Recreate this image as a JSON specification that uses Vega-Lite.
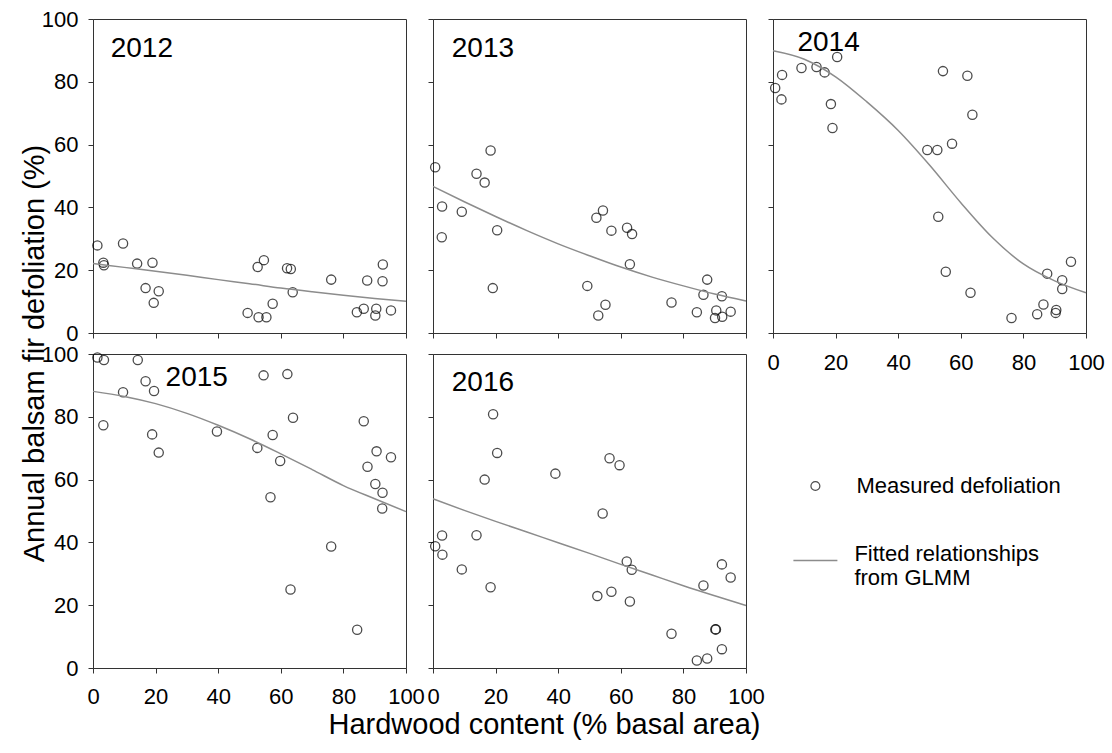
{
  "$schema": "https://vega.github.io/schema/vega-lite/v6.json",
  "padding": {"left": 20, "top": 7, "right": 5, "bottom": 5},
  "background": "white",
  "bounds": "flush",
  "columns": 3,
  "spacing": {"row": 21, "column": 27},
  "resolve": {"scale": {"color": "shared", "shape": "shared"}, "legend": {"color": "shared", "shape": "shared"}},
  "config": {
    "font": "Liberation Sans",
    "view": {"stroke": "#333", "strokeWidth": 1},
    "axis": {"grid": false, "domainColor": "#333", "tickColor": "#333", "tickSize": 5, "labelFontSize": 22, "labelColor": "black", "labelFont": "Liberation Sans", "titleFont": "Liberation Sans", "titleFontSize": 29, "titleFontWeight": "normal", "titleColor": "black", "labelFlush": false, "labelOverlap": false},
    "axisY": {"labelPadding": 10},
    "axisX": {"labelPadding": 13},
    "text": {"font": "Liberation Sans", "fontSize": 28, "color": "black", "align": "left", "baseline": "middle"}
  },
  "datasets": {
    "points": [
      {"year": 2012, "hardwood": 1.4, "defoliation": 27.9}, {"year": 2012, "hardwood": 9.6, "defoliation": 28.5}, {"year": 2012, "hardwood": 3.3, "defoliation": 22.4}, {"year": 2012, "hardwood": 3.5, "defoliation": 21.6}, {"year": 2012, "hardwood": 14.1, "defoliation": 22.1}, {"year": 2012, "hardwood": 19.0, "defoliation": 22.4}, {"year": 2012, "hardwood": 16.8, "defoliation": 14.3}, {"year": 2012, "hardwood": 21.0, "defoliation": 13.3}, {"year": 2012, "hardwood": 19.4, "defoliation": 9.6}, {"year": 2012, "hardwood": 49.4, "defoliation": 6.4}, {"year": 2012, "hardwood": 52.6, "defoliation": 21.0}, {"year": 2012, "hardwood": 52.9, "defoliation": 5.0}, {"year": 2012, "hardwood": 54.6, "defoliation": 23.2}, {"year": 2012, "hardwood": 55.4, "defoliation": 5.0}, {"year": 2012, "hardwood": 57.4, "defoliation": 9.3}, {"year": 2012, "hardwood": 62.0, "defoliation": 20.6}, {"year": 2012, "hardwood": 63.2, "defoliation": 20.4}, {"year": 2012, "hardwood": 63.8, "defoliation": 13.0}, {"year": 2012, "hardwood": 76.1, "defoliation": 17.0}, {"year": 2012, "hardwood": 84.3, "defoliation": 6.6}, {"year": 2012, "hardwood": 86.5, "defoliation": 7.7}, {"year": 2012, "hardwood": 87.6, "defoliation": 16.7}, {"year": 2012, "hardwood": 90.5, "defoliation": 7.7}, {"year": 2012, "hardwood": 90.2, "defoliation": 5.6}, {"year": 2012, "hardwood": 92.6, "defoliation": 21.8}, {"year": 2012, "hardwood": 92.5, "defoliation": 16.5}, {"year": 2012, "hardwood": 95.2, "defoliation": 7.2},
      {"year": 2013, "hardwood": 0.7, "defoliation": 52.8}, {"year": 2013, "hardwood": 2.9, "defoliation": 40.3}, {"year": 2013, "hardwood": 2.8, "defoliation": 30.5}, {"year": 2013, "hardwood": 9.2, "defoliation": 38.6}, {"year": 2013, "hardwood": 13.9, "defoliation": 50.7}, {"year": 2013, "hardwood": 16.5, "defoliation": 47.9}, {"year": 2013, "hardwood": 18.4, "defoliation": 58.1}, {"year": 2013, "hardwood": 19.1, "defoliation": 14.3}, {"year": 2013, "hardwood": 20.5, "defoliation": 32.7}, {"year": 2013, "hardwood": 49.3, "defoliation": 15.0}, {"year": 2013, "hardwood": 52.2, "defoliation": 36.7}, {"year": 2013, "hardwood": 52.8, "defoliation": 5.6}, {"year": 2013, "hardwood": 54.3, "defoliation": 39.0}, {"year": 2013, "hardwood": 55.1, "defoliation": 9.0}, {"year": 2013, "hardwood": 57.0, "defoliation": 32.6}, {"year": 2013, "hardwood": 62.0, "defoliation": 33.5}, {"year": 2013, "hardwood": 63.6, "defoliation": 31.5}, {"year": 2013, "hardwood": 62.9, "defoliation": 21.9}, {"year": 2013, "hardwood": 76.2, "defoliation": 9.7}, {"year": 2013, "hardwood": 84.3, "defoliation": 6.6}, {"year": 2013, "hardwood": 86.4, "defoliation": 12.2}, {"year": 2013, "hardwood": 87.6, "defoliation": 17.0}, {"year": 2013, "hardwood": 90.5, "defoliation": 7.2}, {"year": 2013, "hardwood": 90.1, "defoliation": 4.8}, {"year": 2013, "hardwood": 92.3, "defoliation": 11.7}, {"year": 2013, "hardwood": 92.4, "defoliation": 5.2}, {"year": 2013, "hardwood": 95.1, "defoliation": 6.8},
      {"year": 2014, "hardwood": 0.7, "defoliation": 78.0}, {"year": 2014, "hardwood": 2.9, "defoliation": 82.2}, {"year": 2014, "hardwood": 2.7, "defoliation": 74.4}, {"year": 2014, "hardwood": 9.1, "defoliation": 84.4}, {"year": 2014, "hardwood": 13.9, "defoliation": 84.7}, {"year": 2014, "hardwood": 16.5, "defoliation": 83.0}, {"year": 2014, "hardwood": 20.5, "defoliation": 87.9}, {"year": 2014, "hardwood": 18.5, "defoliation": 72.9}, {"year": 2014, "hardwood": 19.0, "defoliation": 65.3}, {"year": 2014, "hardwood": 49.3, "defoliation": 58.3}, {"year": 2014, "hardwood": 52.5, "defoliation": 58.3}, {"year": 2014, "hardwood": 57.2, "defoliation": 60.3}, {"year": 2014, "hardwood": 54.3, "defoliation": 83.4}, {"year": 2014, "hardwood": 62.1, "defoliation": 81.9}, {"year": 2014, "hardwood": 63.7, "defoliation": 69.5}, {"year": 2014, "hardwood": 52.8, "defoliation": 37.0}, {"year": 2014, "hardwood": 55.2, "defoliation": 19.5}, {"year": 2014, "hardwood": 63.1, "defoliation": 12.8}, {"year": 2014, "hardwood": 76.2, "defoliation": 4.8}, {"year": 2014, "hardwood": 84.4, "defoliation": 6.0}, {"year": 2014, "hardwood": 86.4, "defoliation": 9.1}, {"year": 2014, "hardwood": 87.6, "defoliation": 18.9}, {"year": 2014, "hardwood": 90.5, "defoliation": 7.3}, {"year": 2014, "hardwood": 90.3, "defoliation": 6.4}, {"year": 2014, "hardwood": 92.4, "defoliation": 16.8}, {"year": 2014, "hardwood": 92.4, "defoliation": 14.0}, {"year": 2014, "hardwood": 95.2, "defoliation": 22.7},
      {"year": 2015, "hardwood": 1.4, "defoliation": 98.9}, {"year": 2015, "hardwood": 3.5, "defoliation": 98.1}, {"year": 2015, "hardwood": 14.3, "defoliation": 98.1}, {"year": 2015, "hardwood": 16.8, "defoliation": 91.3}, {"year": 2015, "hardwood": 19.5, "defoliation": 88.2}, {"year": 2015, "hardwood": 9.6, "defoliation": 87.8}, {"year": 2015, "hardwood": 3.3, "defoliation": 77.3}, {"year": 2015, "hardwood": 18.9, "defoliation": 74.4}, {"year": 2015, "hardwood": 21.0, "defoliation": 68.6}, {"year": 2015, "hardwood": 39.6, "defoliation": 75.3}, {"year": 2015, "hardwood": 52.5, "defoliation": 70.1}, {"year": 2015, "hardwood": 54.5, "defoliation": 93.2}, {"year": 2015, "hardwood": 57.4, "defoliation": 74.2}, {"year": 2015, "hardwood": 56.7, "defoliation": 54.4}, {"year": 2015, "hardwood": 59.8, "defoliation": 65.9}, {"year": 2015, "hardwood": 62.1, "defoliation": 93.6}, {"year": 2015, "hardwood": 63.9, "defoliation": 79.7}, {"year": 2015, "hardwood": 63.1, "defoliation": 25.0}, {"year": 2015, "hardwood": 76.1, "defoliation": 38.7}, {"year": 2015, "hardwood": 84.4, "defoliation": 12.2}, {"year": 2015, "hardwood": 86.5, "defoliation": 78.6}, {"year": 2015, "hardwood": 87.7, "defoliation": 64.1}, {"year": 2015, "hardwood": 90.6, "defoliation": 69.0}, {"year": 2015, "hardwood": 90.2, "defoliation": 58.6}, {"year": 2015, "hardwood": 92.5, "defoliation": 55.8}, {"year": 2015, "hardwood": 92.4, "defoliation": 50.8}, {"year": 2015, "hardwood": 95.2, "defoliation": 67.1},
      {"year": 2016, "hardwood": 0.7, "defoliation": 38.8}, {"year": 2016, "hardwood": 2.9, "defoliation": 42.2}, {"year": 2016, "hardwood": 3.0, "defoliation": 36.1}, {"year": 2016, "hardwood": 9.2, "defoliation": 31.4}, {"year": 2016, "hardwood": 13.9, "defoliation": 42.3}, {"year": 2016, "hardwood": 16.5, "defoliation": 60.0}, {"year": 2016, "hardwood": 19.2, "defoliation": 80.8}, {"year": 2016, "hardwood": 18.4, "defoliation": 25.7}, {"year": 2016, "hardwood": 20.5, "defoliation": 68.5}, {"year": 2016, "hardwood": 39.1, "defoliation": 61.9}, {"year": 2016, "hardwood": 54.2, "defoliation": 49.2}, {"year": 2016, "hardwood": 52.5, "defoliation": 22.9}, {"year": 2016, "hardwood": 56.4, "defoliation": 66.8}, {"year": 2016, "hardwood": 59.6, "defoliation": 64.6}, {"year": 2016, "hardwood": 57.0, "defoliation": 24.3}, {"year": 2016, "hardwood": 61.9, "defoliation": 33.9}, {"year": 2016, "hardwood": 63.5, "defoliation": 31.3}, {"year": 2016, "hardwood": 62.9, "defoliation": 21.2}, {"year": 2016, "hardwood": 76.2, "defoliation": 10.9}, {"year": 2016, "hardwood": 84.3, "defoliation": 2.4}, {"year": 2016, "hardwood": 87.6, "defoliation": 3.0}, {"year": 2016, "hardwood": 86.4, "defoliation": 26.3}, {"year": 2016, "hardwood": 90.2, "defoliation": 12.3}, {"year": 2016, "hardwood": 90.4, "defoliation": 12.3}, {"year": 2016, "hardwood": 92.3, "defoliation": 6.0}, {"year": 2016, "hardwood": 92.3, "defoliation": 33.0}, {"year": 2016, "hardwood": 95.1, "defoliation": 28.8}
    ],
    "fits": [
      {"year": 2012, "hardwood": 0, "defoliation": 22.1}, {"year": 2012, "hardwood": 10, "defoliation": 20.9}, {"year": 2012, "hardwood": 20, "defoliation": 19.7}, {"year": 2012, "hardwood": 30, "defoliation": 18.4}, {"year": 2012, "hardwood": 40, "defoliation": 17.0}, {"year": 2012, "hardwood": 50, "defoliation": 15.7}, {"year": 2012, "hardwood": 60, "defoliation": 14.3}, {"year": 2012, "hardwood": 70, "defoliation": 13.1}, {"year": 2012, "hardwood": 80, "defoliation": 12.0}, {"year": 2012, "hardwood": 90, "defoliation": 11.0}, {"year": 2012, "hardwood": 100, "defoliation": 10.1},
      {"year": 2013, "hardwood": 0, "defoliation": 46.7}, {"year": 2013, "hardwood": 10, "defoliation": 41.8}, {"year": 2013, "hardwood": 20, "defoliation": 37.1}, {"year": 2013, "hardwood": 30, "defoliation": 32.6}, {"year": 2013, "hardwood": 40, "defoliation": 28.4}, {"year": 2013, "hardwood": 50, "defoliation": 24.6}, {"year": 2013, "hardwood": 60, "defoliation": 21.0}, {"year": 2013, "hardwood": 70, "defoliation": 17.8}, {"year": 2013, "hardwood": 80, "defoliation": 15.0}, {"year": 2013, "hardwood": 90, "defoliation": 12.4}, {"year": 2013, "hardwood": 100, "defoliation": 10.2},
      {"year": 2014, "hardwood": 0, "defoliation": 89.9}, {"year": 2014, "hardwood": 10, "defoliation": 87.2}, {"year": 2014, "hardwood": 20, "defoliation": 81.6}, {"year": 2014, "hardwood": 30, "defoliation": 73.6}, {"year": 2014, "hardwood": 40, "defoliation": 64.5}, {"year": 2014, "hardwood": 50, "defoliation": 53.5}, {"year": 2014, "hardwood": 60, "defoliation": 41.5}, {"year": 2014, "hardwood": 70, "defoliation": 30.5}, {"year": 2014, "hardwood": 80, "defoliation": 22.0}, {"year": 2014, "hardwood": 90, "defoliation": 16.6}, {"year": 2014, "hardwood": 100, "defoliation": 12.8},
      {"year": 2015, "hardwood": 0, "defoliation": 88.1}, {"year": 2015, "hardwood": 10, "defoliation": 86.5}, {"year": 2015, "hardwood": 20, "defoliation": 84.2}, {"year": 2015, "hardwood": 30, "defoliation": 81.1}, {"year": 2015, "hardwood": 40, "defoliation": 77.3}, {"year": 2015, "hardwood": 50, "defoliation": 73.0}, {"year": 2015, "hardwood": 60, "defoliation": 68.2}, {"year": 2015, "hardwood": 70, "defoliation": 63.2}, {"year": 2015, "hardwood": 80, "defoliation": 58.1}, {"year": 2015, "hardwood": 90, "defoliation": 53.9}, {"year": 2015, "hardwood": 100, "defoliation": 49.8},
      {"year": 2016, "hardwood": 0, "defoliation": 53.9}, {"year": 2016, "hardwood": 10, "defoliation": 50.2}, {"year": 2016, "hardwood": 20, "defoliation": 46.7}, {"year": 2016, "hardwood": 30, "defoliation": 43.3}, {"year": 2016, "hardwood": 40, "defoliation": 39.9}, {"year": 2016, "hardwood": 50, "defoliation": 36.5}, {"year": 2016, "hardwood": 60, "defoliation": 33.0}, {"year": 2016, "hardwood": 70, "defoliation": 29.6}, {"year": 2016, "hardwood": 80, "defoliation": 26.2}, {"year": 2016, "hardwood": 90, "defoliation": 23.0}, {"year": 2016, "hardwood": 100, "defoliation": 19.9}
    ]
  },
  "concat": [
    {
      "width": 313, "height": 314,
      "layer": [
        {"data": {"name": "points"}, "transform": [{"filter": "datum.year == 2012"}],
         "mark": {"type": "point", "filled": false, "size": 85, "strokeWidth": 1.3, "color": "black"},
         "encoding": {
           "x": {"field": "hardwood", "type": "quantitative", "scale": {"domain": [0, 100], "nice": false}, "axis": {"title": null, "labels": false, "values": [0,10,20,30,40,50,60,70,80,90,100]}},
           "y": {"field": "defoliation", "type": "quantitative", "scale": {"domain": [0, 100], "nice": false}, "axis": {"title": null, "values": [0,10,20,30,40,50,60,70,80,90,100], "labelExpr": "datum.value % 20 == 0 ? datum.label : ''"}},
           "shape": {"datum": "Measured defoliation", "type": "nominal", "scale": {"range": ["circle"]}, "legend": {"orient": "none", "legendX": 711.4, "legendY": 456, "title": null, "padding": 0, "symbolSize": 80, "symbolStrokeColor": "black", "symbolFillColor": "transparent", "symbolStrokeWidth": 1.2, "labelFontSize": 22, "labelFont": "Liberation Sans", "labelColor": "black", "labelOffset": 30, "labelBaseline": "middle", "labelLimit": 0}}
         }},
        {"data": {"name": "fits"}, "transform": [{"filter": "datum.year == 2012"}],
         "mark": {"type": "line", "strokeWidth": 1.5, "interpolate": "monotone"},
         "encoding": {
           "x": {"field": "hardwood", "type": "quantitative"},
           "y": {"field": "defoliation", "type": "quantitative"},
           "color": {"datum": "Fitted relationships from GLMM", "type": "nominal", "scale": {"range": ["#8c8c8c"]}, "legend": {"orient": "none", "legendX": 699.4, "legendY": 518.5, "title": null, "padding": 0, "symbolType": "stroke", "symbolSize": 1936, "symbolStrokeWidth": 1.5, "labelFontSize": 22, "labelFont": "Liberation Sans", "labelColor": "black", "labelOffset": 16, "labelBaseline": "alphabetic", "labelLimit": 0, "labelExpr": "['Fitted relationships', 'from GLMM']"}}
         }},
        {"data": {"values": [{"label": "2012"}]}, "mark": {"type": "text"},
         "encoding": {"x": {"datum": 5.65, "type": "quantitative"}, "y": {"datum": 90.5, "type": "quantitative"}, "text": {"field": "label"}}}
      ]
    },
    {
      "width": 313, "height": 314,
      "layer": [
        {"data": {"name": "points"}, "transform": [{"filter": "datum.year == 2013"}],
         "mark": {"type": "point", "filled": false, "size": 85, "strokeWidth": 1.3, "color": "black"},
         "encoding": {
           "x": {"field": "hardwood", "type": "quantitative", "scale": {"domain": [0, 100], "nice": false}, "axis": {"title": null, "labels": false, "values": [0,10,20,30,40,50,60,70,80,90,100]}},
           "y": {"field": "defoliation", "type": "quantitative", "scale": {"domain": [0, 100], "nice": false}, "axis": {"title": null, "labels": false, "values": [0,10,20,30,40,50,60,70,80,90,100]}},
           "shape": {"datum": "Measured defoliation", "type": "nominal", "scale": {"range": ["circle"]}, "legend": {"orient": "none", "legendX": 711.4, "legendY": 456, "title": null, "padding": 0, "symbolSize": 80, "symbolStrokeColor": "black", "symbolFillColor": "transparent", "symbolStrokeWidth": 1.2, "labelFontSize": 22, "labelFont": "Liberation Sans", "labelColor": "black", "labelOffset": 30, "labelBaseline": "middle", "labelLimit": 0}}
         }},
        {"data": {"name": "fits"}, "transform": [{"filter": "datum.year == 2013"}],
         "mark": {"type": "line", "strokeWidth": 1.5, "interpolate": "monotone"},
         "encoding": {
           "x": {"field": "hardwood", "type": "quantitative"},
           "y": {"field": "defoliation", "type": "quantitative"},
           "color": {"datum": "Fitted relationships from GLMM", "type": "nominal", "scale": {"range": ["#8c8c8c"]}, "legend": {"orient": "none", "legendX": 699.4, "legendY": 518.5, "title": null, "padding": 0, "symbolType": "stroke", "symbolSize": 1936, "symbolStrokeWidth": 1.5, "labelFontSize": 22, "labelFont": "Liberation Sans", "labelColor": "black", "labelOffset": 16, "labelBaseline": "alphabetic", "labelLimit": 0, "labelExpr": "['Fitted relationships', 'from GLMM']"}}
         }},
        {"data": {"values": [{"label": "2013"}]}, "mark": {"type": "text"},
         "encoding": {"x": {"datum": 6.0, "type": "quantitative"}, "y": {"datum": 90.5, "type": "quantitative"}, "text": {"field": "label"}}}
      ]
    },
    {
      "width": 313, "height": 314,
      "layer": [
        {"data": {"name": "points"}, "transform": [{"filter": "datum.year == 2014"}],
         "mark": {"type": "point", "filled": false, "size": 85, "strokeWidth": 1.3, "color": "black"},
         "encoding": {
           "x": {"field": "hardwood", "type": "quantitative", "scale": {"domain": [0, 100], "nice": false}, "axis": {"title": null, "labelPadding": 14, "values": [0,10,20,30,40,50,60,70,80,90,100], "labelExpr": "datum.value % 20 == 0 ? datum.label : ''"}},
           "y": {"field": "defoliation", "type": "quantitative", "scale": {"domain": [0, 100], "nice": false}, "axis": {"title": null, "labels": false, "values": [0,10,20,30,40,50,60,70,80,90,100]}},
           "shape": {"datum": "Measured defoliation", "type": "nominal", "scale": {"range": ["circle"]}, "legend": {"orient": "none", "legendX": 711.4, "legendY": 456, "title": null, "padding": 0, "symbolSize": 80, "symbolStrokeColor": "black", "symbolFillColor": "transparent", "symbolStrokeWidth": 1.2, "labelFontSize": 22, "labelFont": "Liberation Sans", "labelColor": "black", "labelOffset": 30, "labelBaseline": "middle", "labelLimit": 0}}
         }},
        {"data": {"name": "fits"}, "transform": [{"filter": "datum.year == 2014"}],
         "mark": {"type": "line", "strokeWidth": 1.5, "interpolate": "monotone"},
         "encoding": {
           "x": {"field": "hardwood", "type": "quantitative"},
           "y": {"field": "defoliation", "type": "quantitative"},
           "color": {"datum": "Fitted relationships from GLMM", "type": "nominal", "scale": {"range": ["#8c8c8c"]}, "legend": {"orient": "none", "legendX": 699.4, "legendY": 518.5, "title": null, "padding": 0, "symbolType": "stroke", "symbolSize": 1936, "symbolStrokeWidth": 1.5, "labelFontSize": 22, "labelFont": "Liberation Sans", "labelColor": "black", "labelOffset": 16, "labelBaseline": "alphabetic", "labelLimit": 0, "labelExpr": "['Fitted relationships', 'from GLMM']"}}
         }},
        {"data": {"values": [{"label": "2014"}]}, "mark": {"type": "text"},
         "encoding": {"x": {"datum": 7.8, "type": "quantitative"}, "y": {"datum": 92.4, "type": "quantitative"}, "text": {"field": "label"}}}
      ]
    },
    {
      "width": 313, "height": 314,
      "layer": [
        {"data": {"name": "points"}, "transform": [{"filter": "datum.year == 2015"}],
         "mark": {"type": "point", "filled": false, "size": 85, "strokeWidth": 1.3, "color": "black"},
         "encoding": {
           "x": {"field": "hardwood", "type": "quantitative", "scale": {"domain": [0, 100], "nice": false}, "axis": {"title": "Hardwood content (% basal area)", "titleX": 451, "titleY": 65.7, "titleAlign": "center", "titleBaseline": "alphabetic", "values": [0,10,20,30,40,50,60,70,80,90,100], "labelExpr": "datum.value % 20 == 0 ? datum.label : ''"}},
           "y": {"field": "defoliation", "type": "quantitative", "scale": {"domain": [0, 100], "nice": false}, "axis": {"title": "Annual balsam fir defoliation (%)", "titleX": -49.3, "titleY": -1, "titleAlign": "center", "titleBaseline": "alphabetic", "titleAngle": 270, "values": [0,10,20,30,40,50,60,70,80,90,100], "labelExpr": "datum.value % 20 == 0 ? datum.label : ''"}},
           "shape": {"datum": "Measured defoliation", "type": "nominal", "scale": {"range": ["circle"]}, "legend": {"orient": "none", "legendX": 711.4, "legendY": 456, "title": null, "padding": 0, "symbolSize": 80, "symbolStrokeColor": "black", "symbolFillColor": "transparent", "symbolStrokeWidth": 1.2, "labelFontSize": 22, "labelFont": "Liberation Sans", "labelColor": "black", "labelOffset": 30, "labelBaseline": "middle", "labelLimit": 0}}
         }},
        {"data": {"name": "fits"}, "transform": [{"filter": "datum.year == 2015"}],
         "mark": {"type": "line", "strokeWidth": 1.5, "interpolate": "monotone"},
         "encoding": {
           "x": {"field": "hardwood", "type": "quantitative"},
           "y": {"field": "defoliation", "type": "quantitative"},
           "color": {"datum": "Fitted relationships from GLMM", "type": "nominal", "scale": {"range": ["#8c8c8c"]}, "legend": {"orient": "none", "legendX": 699.4, "legendY": 518.5, "title": null, "padding": 0, "symbolType": "stroke", "symbolSize": 1936, "symbolStrokeWidth": 1.5, "labelFontSize": 22, "labelFont": "Liberation Sans", "labelColor": "black", "labelOffset": 16, "labelBaseline": "alphabetic", "labelLimit": 0, "labelExpr": "['Fitted relationships', 'from GLMM']"}}
         }},
        {"data": {"values": [{"label": "2015"}]}, "mark": {"type": "text"},
         "encoding": {"x": {"datum": 23.2, "type": "quantitative"}, "y": {"datum": 92.4, "type": "quantitative"}, "text": {"field": "label"}}}
      ]
    },
    {
      "width": 313, "height": 314,
      "layer": [
        {"data": {"name": "points"}, "transform": [{"filter": "datum.year == 2016"}],
         "mark": {"type": "point", "filled": false, "size": 85, "strokeWidth": 1.3, "color": "black"},
         "encoding": {
           "x": {"field": "hardwood", "type": "quantitative", "scale": {"domain": [0, 100], "nice": false}, "axis": {"title": null, "values": [0,10,20,30,40,50,60,70,80,90,100], "labelExpr": "datum.value % 20 == 0 ? datum.label : ''"}},
           "y": {"field": "defoliation", "type": "quantitative", "scale": {"domain": [0, 100], "nice": false}, "axis": {"title": null, "labels": false, "values": [0,10,20,30,40,50,60,70,80,90,100]}},
           "shape": {"datum": "Measured defoliation", "type": "nominal", "scale": {"range": ["circle"]}, "legend": {"orient": "none", "legendX": 711.4, "legendY": 456, "title": null, "padding": 0, "symbolSize": 80, "symbolStrokeColor": "black", "symbolFillColor": "transparent", "symbolStrokeWidth": 1.2, "labelFontSize": 22, "labelFont": "Liberation Sans", "labelColor": "black", "labelOffset": 30, "labelBaseline": "middle", "labelLimit": 0}}
         }},
        {"data": {"name": "fits"}, "transform": [{"filter": "datum.year == 2016"}],
         "mark": {"type": "line", "strokeWidth": 1.5, "interpolate": "monotone"},
         "encoding": {
           "x": {"field": "hardwood", "type": "quantitative"},
           "y": {"field": "defoliation", "type": "quantitative"},
           "color": {"datum": "Fitted relationships from GLMM", "type": "nominal", "scale": {"range": ["#8c8c8c"]}, "legend": {"orient": "none", "legendX": 699.4, "legendY": 518.5, "title": null, "padding": 0, "symbolType": "stroke", "symbolSize": 1936, "symbolStrokeWidth": 1.5, "labelFontSize": 22, "labelFont": "Liberation Sans", "labelColor": "black", "labelOffset": 16, "labelBaseline": "alphabetic", "labelLimit": 0, "labelExpr": "['Fitted relationships', 'from GLMM']"}}
         }},
        {"data": {"values": [{"label": "2016"}]}, "mark": {"type": "text"},
         "encoding": {"x": {"datum": 6.0, "type": "quantitative"}, "y": {"datum": 90.8, "type": "quantitative"}, "text": {"field": "label"}}}
      ]
    }
  ]
}
